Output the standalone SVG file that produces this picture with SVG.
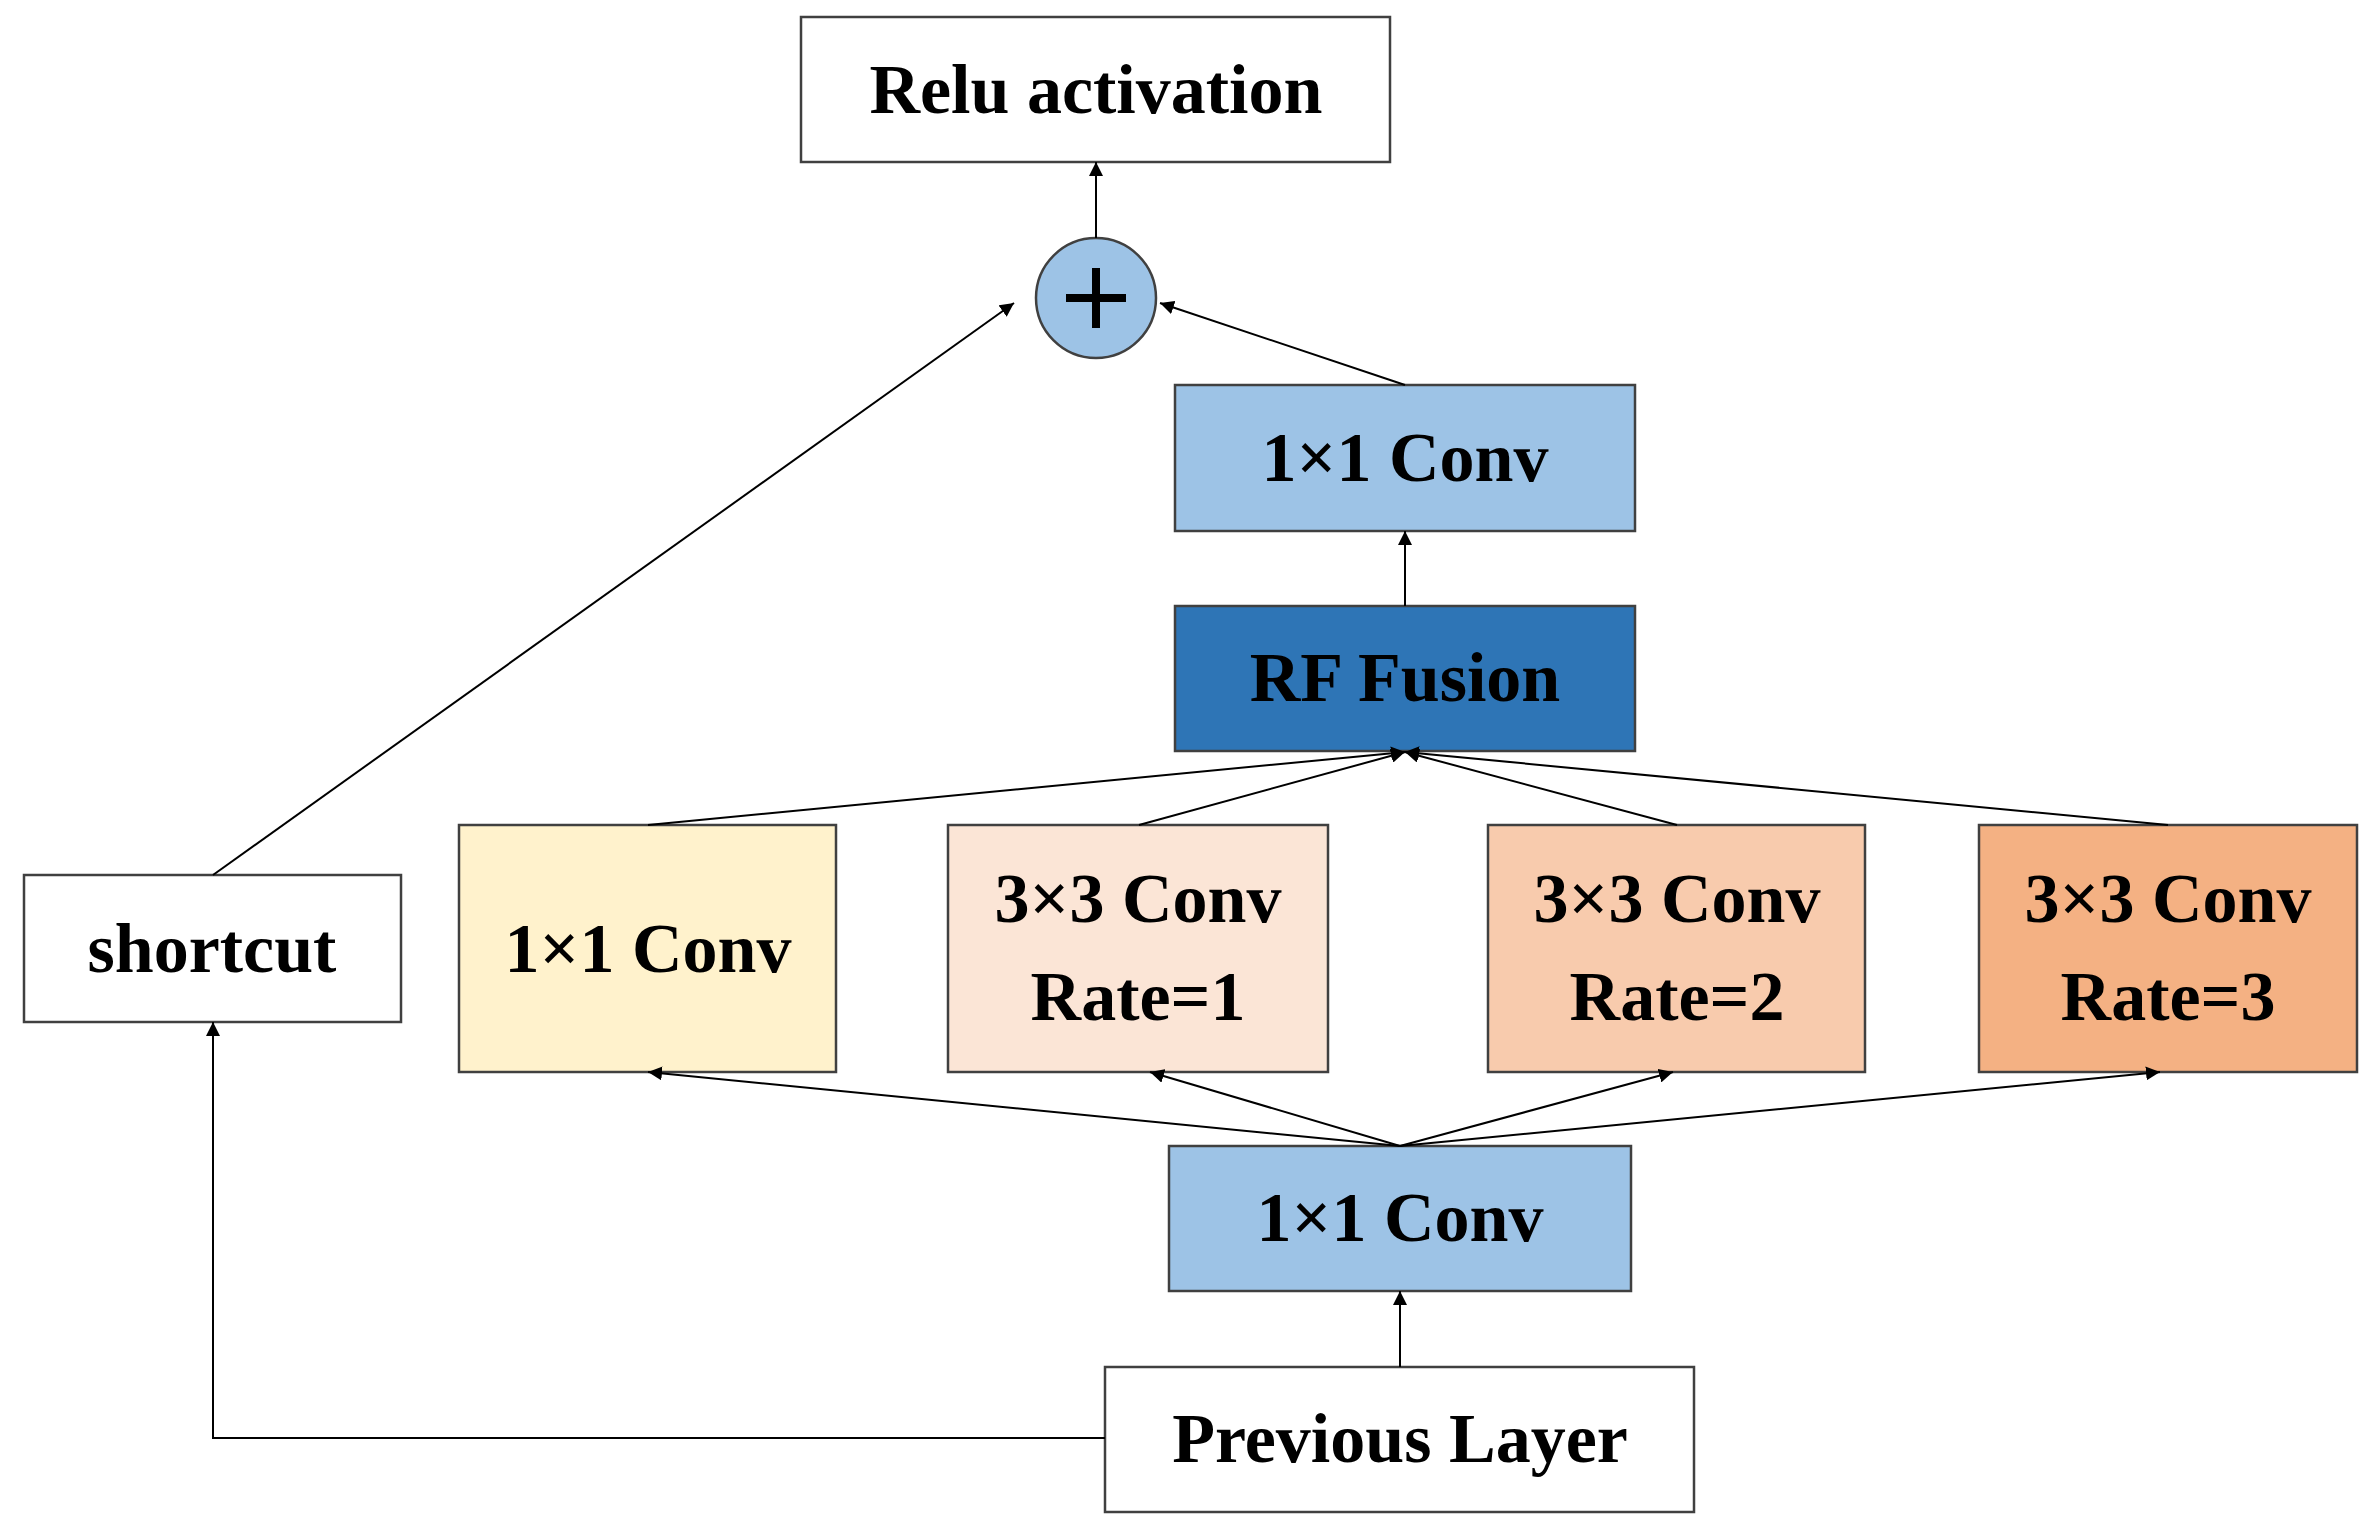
<svg xmlns="http://www.w3.org/2000/svg" width="2374" height="1532" viewBox="0 0 2374 1532">
<style>
rect{stroke:#404040;stroke-width:2.5}
text{font-family:"Liberation Serif",serif;font-weight:bold;font-size:70px;text-anchor:middle;fill:#000}
.c{stroke:#000;stroke-width:2;fill:none;marker-end:url(#a)}
</style>
<defs><marker id="a" viewBox="0 0 10 10" refX="10" refY="5" markerWidth="14" markerHeight="14" markerUnits="userSpaceOnUse" orient="auto"><path d="M0,0L10,5L0,10z" fill="#000"/></marker></defs>
<rect width="2374" height="1532" fill="#fff" style="stroke:none"/>
<g id="relu"><rect x="801" y="17" width="589" height="145" fill="#fff"/><text x="1096" y="113">Relu activation</text></g>
<g id="plus"><circle cx="1096" cy="298" r="60" fill="#9DC3E6" stroke="#404040" stroke-width="2.5"/><path d="M1066,298H1126M1096,268V328" stroke="#000" stroke-width="8"/></g>
<g id="conv_top"><rect x="1175" y="385" width="460" height="146" fill="#9DC3E6"/><text x="1405" y="481">1×1 Conv</text></g>
<g id="rf"><rect x="1175" y="606" width="460" height="145" fill="#2E75B6"/><text x="1405" y="701">RF Fusion</text></g>
<g id="b1"><rect x="459" y="825" width="377" height="247" fill="#FFF2CC"/><text x="648" y="972">1×1 Conv</text></g>
<g id="b2"><rect x="948" y="825" width="380" height="247" fill="#FBE5D6"/><text x="1138" y="922">3×3 Conv</text><text x="1138" y="1020">Rate=1</text></g>
<g id="b3"><rect x="1488" y="825" width="377" height="247" fill="#F8CBAD"/><text x="1677" y="922">3×3 Conv</text><text x="1677" y="1020">Rate=2</text></g>
<g id="b4"><rect x="1979" y="825" width="378" height="247" fill="#F4B183"/><text x="2168" y="922">3×3 Conv</text><text x="2168" y="1020">Rate=3</text></g>
<g id="shortcut"><rect x="24" y="875" width="377" height="147" fill="#fff"/><text x="212" y="972">shortcut</text></g>
<g id="conv_bot"><rect x="1169" y="1146" width="462" height="145" fill="#9DC3E6"/><text x="1400" y="1241">1×1 Conv</text></g>
<g id="prev"><rect x="1105" y="1367" width="589" height="145" fill="#fff"/><text x="1400" y="1462">Previous Layer</text></g>
<g id="connectors">
<path class="c" d="M1096,238V162"/>
<path class="c" d="M1405,385L1160,303"/>
<path class="c" d="M1405,606V531"/>
<path class="c" d="M648,825L1405,752"/>
<path class="c" d="M1139,825L1405,752"/>
<path class="c" d="M1677,825L1405,752"/>
<path class="c" d="M2168,825L1405,752"/>
<path class="c" d="M1400,1146L648,1072"/>
<path class="c" d="M1400,1146L1150,1072"/>
<path class="c" d="M1400,1146L1673,1072"/>
<path class="c" d="M1400,1146L2160,1072"/>
<path class="c" d="M1400,1367V1291"/>
<path class="c" d="M1105,1438H213V1022"/>
<path class="c" d="M213,875L1014,303"/>
</g>
</svg>
